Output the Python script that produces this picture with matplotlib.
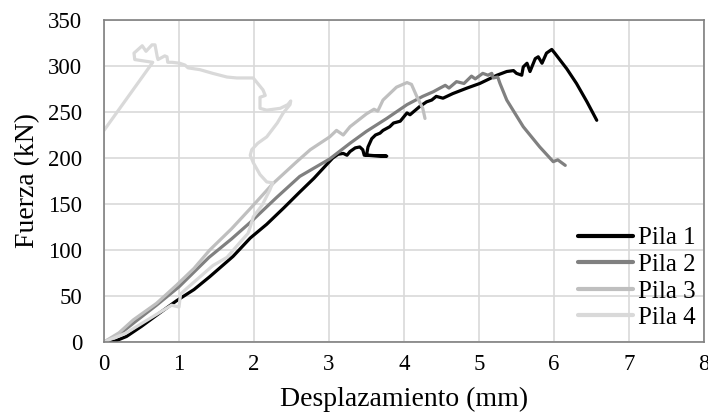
import matplotlib
matplotlib.use("Agg")
import matplotlib.pyplot as plt

# ---- data ----
x1 = [0.04, 0.15, 0.30, 0.5, 0.7, 0.97, 1.2, 1.41, 1.72, 1.95, 2.17, 2.4, 2.61, 2.8, 2.97,
      3.05, 3.12, 3.19, 3.24, 3.28, 3.35, 3.41, 3.45, 3.47, 3.77, 3.50, 3.52, 3.57, 3.62, 3.68,
      3.72, 3.81, 3.86, 3.95, 4.04, 4.08, 4.21, 4.30, 4.37, 4.43, 4.52, 4.65, 4.84, 5.01, 5.24,
      5.37, 5.46, 5.50, 5.57, 5.59, 5.64, 5.68, 5.75, 5.79, 5.84, 5.90, 5.97, 6.01, 6.17, 6.30,
      6.44, 6.57]
y1 = [0, 1, 6, 17, 29, 45, 57, 71, 93, 113, 128, 146, 163, 178, 193,
      200, 204, 205, 203, 207, 211, 212, 209, 203, 202, 203, 212, 221, 225, 227,
      230, 234, 238, 240, 249, 247, 256, 261, 263, 267, 265, 270, 276, 281, 290,
      294, 295, 292, 290, 299, 303, 294, 308, 310, 303, 314, 318, 314, 297, 281,
      261, 241]

x2 = [0, 0.2, 0.4, 0.7, 1.0, 1.4, 1.7, 1.95, 2.3, 2.61, 3.01, 3.28, 3.50, 3.77, 4.04, 4.25,
      4.39, 4.48, 4.55, 4.60, 4.70, 4.80, 4.90, 4.95, 5.05, 5.12, 5.17, 5.19, 5.25, 5.28, 5.37,
      5.59, 5.81, 5.99, 6.05, 6.15]
y2 = [0, 8, 21, 40, 60, 92, 112, 130, 157, 180, 199, 216, 229, 243, 258, 267,
      272, 276, 279, 276, 283, 281, 289, 286, 292, 290, 292, 287, 288, 281, 263,
      234, 212, 196, 198, 192]

x3 = [0, 0.2, 0.39, 0.7, 0.97, 1.2, 1.41, 1.7, 1.95, 2.25, 2.57, 2.75, 2.88, 3.01, 3.10, 3.19,
      3.28, 3.5, 3.6, 3.65, 3.72, 3.9, 4.04, 4.10, 4.17, 4.25, 4.28]
y3 = [0, 10, 24, 42, 62, 80, 100, 123, 145, 172, 196, 209, 216, 223, 230, 225,
      234, 248, 253, 251, 263, 277, 282, 280, 267, 254, 243]

x4 = [0, 0.3, 0.6, 0.9, 1.0, 1.02, 1.1, 1.45, 1.64, 1.81, 1.92, 1.95, 1.99, 2.11, 2.21, 2.25,
      2.17, 2.08, 1.99, 1.95, 1.97, 2.05, 2.17, 2.31, 2.39, 2.48, 2.49, 2.45, 2.35, 2.17, 2.08,
      2.08, 2.15, 2.12, 2.04, 1.99, 1.91, 1.77, 1.64, 1.45, 1.28, 1.12, 1.08, 1.01, 0.91, 0.85,
      0.84, 0.81, 0.72, 0.71, 0.68, 0.64, 0.56, 0.51, 0.40, 0.41, 0.65, 0.0]
y4 = [0, 10, 25, 40, 38, 52, 58, 83, 92, 108, 118, 125, 136, 149, 165, 173,
      174, 182, 195, 203, 209, 216, 223, 238, 249, 258, 262, 258, 254, 252, 254,
      266, 268, 274, 282, 287, 287, 287, 288, 292, 296, 298, 301, 303, 304, 304,
      310, 311, 307, 310, 323, 323, 316, 322, 314, 307, 304, 230]

series = [(x1, y1, "Pila 1", "#000000"),
          (x2, y2, "Pila 2", "#808080"),
          (x3, y3, "Pila 3", "#bfbfbf"),
          (x4, y4, "Pila 4", "#d9d9d9")]

xticks = [0, 1, 2, 3, 4, 5, 6, 7, 8]
yticks = [0, 50, 100, 150, 200, 250, 300, 350]

plt.rcParams['font.family'] = ['Liberation Serif', 'DejaVu Serif']

fig = plt.figure(figsize=(7.08, 4.18), dpi=100)
ax = fig.add_axes([104/708, 1-342/418, 600/708, 322/418])

for x, y, lab, c in series:
    ax.plot(x, y, color=c, lw=2.3, label=lab, solid_joinstyle='round', solid_capstyle='round')

ax.set_xlim(0, 8)
ax.set_ylim(0, 350)
ax.set_xticks(xticks)
ax.set_yticks(yticks)
ax.grid(True, color='#d9d9d9', lw=1.2)
ax.set_axisbelow(True)
for s in ax.spines.values():
    s.set_color('#808080')
    s.set_linewidth(1.2)
ax.tick_params(length=0, labelsize=16.5)
ax.tick_params(axis='x', pad=9)
ax.tick_params(axis='y', pad=15.5)
ax.set_xlabel("Desplazamiento (mm)", fontsize=20, labelpad=8)
ax.set_ylabel("Fuerza (kN)", fontsize=20, labelpad=6)

leg = ax.legend(loc='center left', bbox_to_anchor=(578/708, 1-278/418),
                bbox_transform=fig.transFigure, frameon=False, fontsize=18,
                handlelength=2.2, handletextpad=0.2, labelspacing=0.16,
                borderpad=0, borderaxespad=0)
for l in leg.get_lines():
    l.set_linewidth(3)

fig.savefig("out.png", dpi=100)
